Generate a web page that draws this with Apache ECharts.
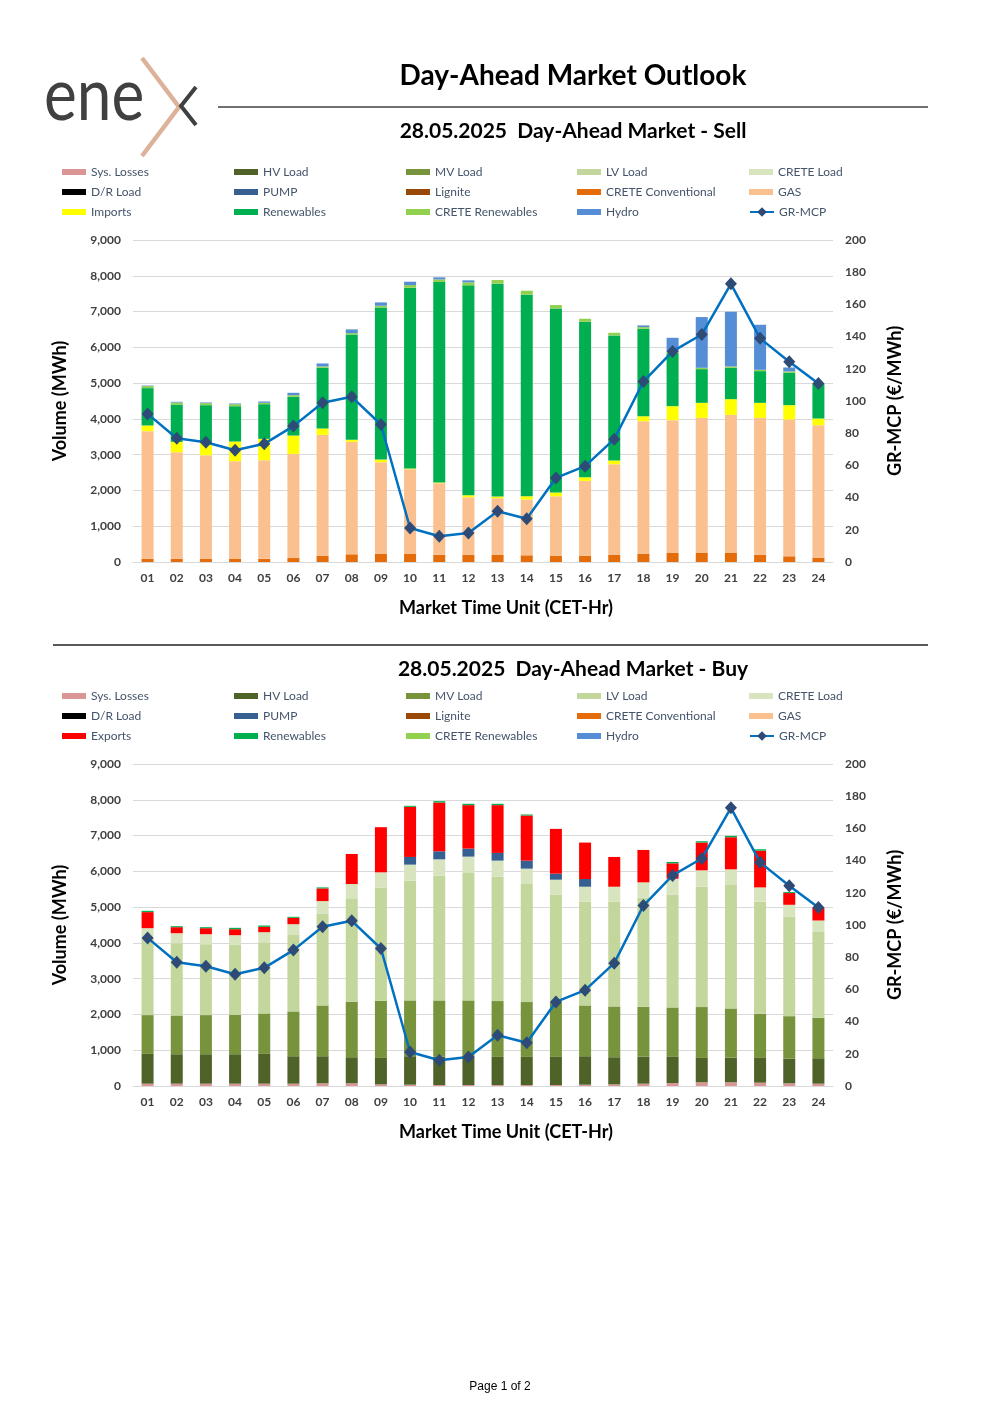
<!DOCTYPE html>
<html>
<head>
<meta charset="utf-8">
<script src="https://cdn.jsdelivr.net/npm/echarts@6/dist/echarts.min.js"></script>
<style>
html,body{margin:0;padding:0;background:#fff;}
#c{width:1000px;height:1415px;}
</style>
</head>
<body>
<div id="c"></div>
<script>
// ---------- DATA ----------
const hours = ['01','02','03','04','05','06','07','08','09','10','11','12','13','14','15','16','17','18','19','20','21','22','23','24'];
const volumeTicks = [0, 9000, 1000];
const priceTicks = [0, 200, 20];

// Sell side (MWh)
const lignite = [];
const creteConvSell = [90,90,85,85,90,110,177,215,233,224,205,205,196,187,177,177,196,233,252,252,252,205,159,121];
const gasSell = [3566,2978,2900,2732,2755,2912,3376,3143,2556,2369,1996,1604,1585,1557,1660,2089,2537,3703,3712,3777,3861,3824,3823,3703];
const importsSell = [160,290,335,550,597,513,178,56,74,18,19,56,47,93,103,103,102,140,392,420,438,420,402,186];
const renewSell = [1044,1044,1063,988,969,1082,1697,2947,4253,5055,5605,5867,5950,5634,5148,4346,3498,2443,1482,942,877,886,904,970];
const creteRenSell = [56,56,56,56,38,46,37,37,47,75,75,84,103,112,94,84,74,47,38,37,37,37,38,20];
const hydroSell = [15,20,20,20,37,66,84,103,93,93,56,56,0,0,0,0,0,47,391,1418,1530,1259,111,0];

// Buy side (MWh)
const sysLosses = [65,65,65,65,65,65,75,75,47,37,28,28,28,28,28,37,47,65,84,103,103,93,75,65];
const hvLoad = [832,823,823,823,832,767,757,729,738,795,790,791,785,785,785,795,757,757,729,682,691,692,691,711];
const mvLoad = [1084,1084,1093,1103,1131,1252,1420,1551,1598,1561,1574,1574,1561,1533,1527,1420,1420,1393,1383,1421,1374,1234,1187,1131];
const lvLoad = [2150,2019,1982,1953,1991,2140,2561,2869,3159,3345,3486,3560,3476,3299,3015,2898,2926,3047,3159,3364,3449,3131,2776,2401];
const creteLoad = [280,280,280,271,280,299,355,421,430,449,457,458,449,430,411,420,420,430,439,458,439,401,336,318];
const drLoad = [];
const pumpBuy = [0,0,0,0,0,0,0,0,0,215,225,225,215,224,169,215,0,0,0,0,0,0,0,0];
const exportsBuy = [449,168,168,168,150,178,355,841,1262,1402,1364,1214,1336,1262,1252,1019,832,906,430,776,897,1028,328,355];
const renewBuy = [37,28,28,38,37,28,28,0,0,28,38,38,38,28,0,0,0,0,38,37,38,38,28,0];

// Price (EUR/MWh)
const grMcp = [92.0,76.9,74.4,69.4,73.4,84.4,98.9,102.6,85.4,21.1,16.0,18.0,31.5,26.9,52.2,59.5,76.3,112.1,130.8,141.3,172.8,138.9,124.4,110.9];

// ---------- STYLE ----------
const C = {
  'Sys. Losses':'#DA9694','HV Load':'#4F6228','MV Load':'#77933C','LV Load':'#C3D69B','CRETE Load':'#D7E4BD',
  'D/R Load':'#000000','PUMP':'#376092','Lignite':'#984807','CRETE Conventional':'#E46C0A','GAS':'#FAC090',
  'Imports':'#FFFF00','Exports':'#FF0000','Renewables':'#00B050','CRETE Renewables':'#92D050','Hydro':'#558ED5'
};
const FONT = 'Lato';

function bar(name, data, g, stack){
  return {type:'bar', name, data, xAxisIndex:g, yAxisIndex:g*2, stack, barWidth:12,
    itemStyle:{color:C[name]}, emphasis:{disabled:true}};
}
function line(g){
  return {type:'line', name:'GR-MCP', data:grMcp, xAxisIndex:g, yAxisIndex:g*2+1,
    symbol:'diamond', symbolSize:[12,13], z:5,
    lineStyle:{color:'#0070C0', width:2.5}, itemStyle:{color:'#2E4A76'}, emphasis:{disabled:true}};
}

const series = [
  bar('Lignite', lignite, 0, 'sell'),
  bar('CRETE Conventional', creteConvSell, 0, 'sell'),
  bar('GAS', gasSell, 0, 'sell'),
  bar('Imports', importsSell, 0, 'sell'),
  bar('Renewables', renewSell, 0, 'sell'),
  bar('CRETE Renewables', creteRenSell, 0, 'sell'),
  bar('Hydro', hydroSell, 0, 'sell'),
  line(0),
  bar('Sys. Losses', sysLosses, 1, 'buy'),
  bar('HV Load', hvLoad, 1, 'buy'),
  bar('MV Load', mvLoad, 1, 'buy'),
  bar('LV Load', lvLoad, 1, 'buy'),
  bar('CRETE Load', creteLoad, 1, 'buy'),
  bar('D/R Load', drLoad, 1, 'buy'),
  bar('PUMP', pumpBuy, 1, 'buy'),
  bar('Exports', exportsBuy, 1, 'buy'),
  bar('Renewables', renewBuy, 1, 'buy'),
  line(1)
];

function legends(rowTop, third){
  const cols = [
    ['Sys. Losses','D/R Load', third],
    ['HV Load','PUMP','Renewables'],
    ['MV Load','Lignite','CRETE Renewables'],
    ['LV Load','CRETE Conventional','Hydro'],
    ['CRETE Load','GAS']
  ];
  const xs = [62,234,406,577,749];
  const base = {orient:'vertical', padding:0, itemGap:6, itemWidth:24, itemHeight:6, icon:'rect',
    selectedMode:false, textStyle:{fontFamily:FONT, fontSize:12, color:'#44546A', lineHeight:14}};
  const out = cols.map((d,i)=>Object.assign({}, base, {left:xs[i], top:rowTop, data:d}));
  out.push(Object.assign({}, base, {left:749, top:rowTop+40, data:['GR-MCP'], icon:null, itemHeight:12}));
  return out;
}

function xAxis(g){
  return {gridIndex:g, type:'category', data:hours, axisTick:{show:false},
    axisLine:{lineStyle:{color:'#D9D9D9'}},
    axisLabel:{color:'#404040', fontFamily:FONT, fontWeight:'bold', fontSize:12, margin:10},
    name:'Market Time Unit (CET-Hr)', nameLocation:'middle', nameGap:37,
    nameTextStyle:{fontFamily:FONT, fontWeight:'bold', fontSize:18, color:'#000', padding:[0,0,0,46]}};
}
function yAxes(g){
  return [
    {gridIndex:g, type:'value', position:'left', min:volumeTicks[0], max:volumeTicks[1], interval:volumeTicks[2],
     axisLine:{show:false}, axisTick:{show:false},
     splitLine:{lineStyle:{color:'#D9D9D9'}},
     axisLabel:{color:'#404040', fontFamily:FONT, fontWeight:'bold', fontSize:12, margin:12,
       formatter:v=>v.toLocaleString('en-US')},
     name:'Volume (MWh)', nameLocation:'middle', nameRotate:90, nameGap:64,
     nameTextStyle:{fontFamily:FONT, fontWeight:'bold', fontSize:18, color:'#000'}},
    {gridIndex:g, type:'value', position:'right', min:priceTicks[0], max:priceTicks[1], interval:priceTicks[2],
     axisLine:{show:false}, axisTick:{show:false}, splitLine:{show:false},
     axisLabel:{color:'#404040', fontFamily:FONT, fontWeight:'bold', fontSize:12, margin:12},
     name:'GR-MCP (€/MWh)', nameLocation:'middle', nameRotate:90, nameGap:53,
     nameTextStyle:{fontFamily:FONT, fontWeight:'bold', fontSize:18, color:'#000'}}
  ];
}

const graphic = [
  // logo
  {type:'text', x:44, y:96, scaleX:0.84, style:{text:'ene', font:'normal 74px Lato', fill:'#404040', align:'left', verticalAlign:'middle'}},
  {type:'polyline', shape:{points:[[142,58],[179,107],[142,156]]}, style:{stroke:'#DDB29B', lineWidth:4.5, fill:null}},
  {type:'polyline', shape:{points:[[196,87],[181,106],[196,125]]}, style:{stroke:'#404040', lineWidth:4, fill:null}},
  // titles
  {type:'text', x:573, y:76, style:{text:'Day-Ahead Market Outlook', font:'bold 28px Lato', fill:'#000', align:'center', verticalAlign:'middle'}},
  {type:'line', shape:{x1:218,y1:107,x2:928,y2:107}, style:{stroke:'#404040', lineWidth:1.5}},
  {type:'text', x:573, y:131, style:{text:'28.05.2025  Day-Ahead Market - Sell', font:'bold 21px Lato', fill:'#000', align:'center', verticalAlign:'middle'}},
  {type:'line', shape:{x1:53,y1:645,x2:928,y2:645}, style:{stroke:'#595959', lineWidth:2}},
  {type:'text', x:573, y:669, style:{text:'28.05.2025  Day-Ahead Market - Buy', font:'bold 21px Lato', fill:'#000', align:'center', verticalAlign:'middle'}},
  {type:'text', x:500, y:1387, style:{text:'Page 1 of 2', font:'12px "Liberation Sans"', fill:'#000', align:'center', verticalAlign:'middle'}}
];

const chart = echarts.init(document.getElementById('c'));
chart.setOption({
  animation:false,
  backgroundColor:'#fff',
  graphic,
  legend: legends(165,'Imports').concat(legends(689,'Exports')),
  grid:[
    {left:133, top:240, width:700, height:322},
    {left:133, top:764, width:700, height:322}
  ],
  xAxis:[xAxis(0), xAxis(1)],
  yAxis: yAxes(0).concat(yAxes(1)),
  series
});
</script>
</body>
</html>
